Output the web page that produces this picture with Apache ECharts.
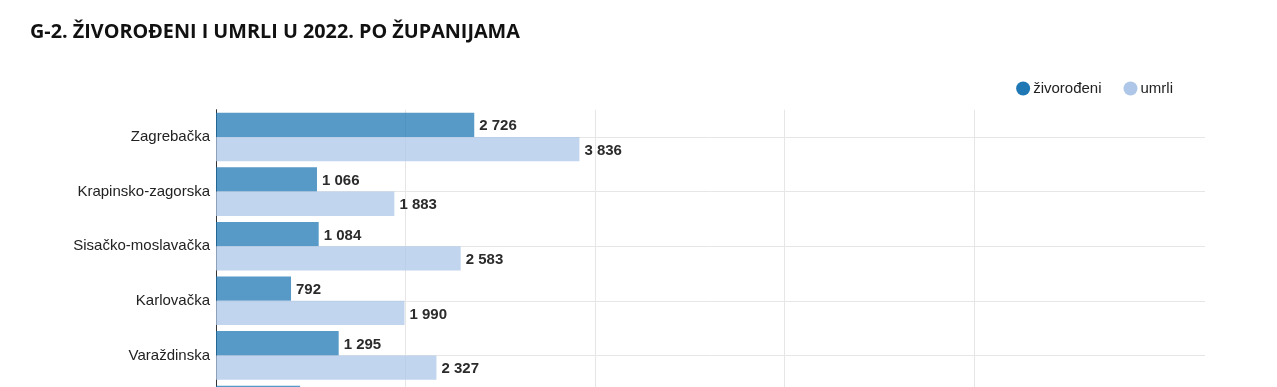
<!DOCTYPE html>
<html>
<head>
<meta charset="utf-8">
<script src="https://cdn.jsdelivr.net/npm/echarts@6/dist/echarts.min.js"></script>
<style>
html, body { margin: 0; padding: 0; background: #fff; overflow: hidden; }
#chart { width: 1277px; height: 500px; }
</style>
</head>
<body>
<div id="chart"></div>
<script>
const titleText = 'G-2. ŽIVOROĐENI I UMRLI U 2022. PO ŽUPANIJAMA';
const counties = ['Zagrebačka', 'Krapinsko-zagorska', 'Sisačko-moslavačka', 'Karlovačka', 'Varaždinska', 'Koprivničko-križevačka'];
const seriesNames = ['živorođeni', 'umrli'];
const liveBirths = [2726, 1066, 1084, 792, 1295, 888];
const deaths = [3836, 1883, 2583, 1990, 2327, null];
const xMax = 10440;
const xInterval = 2000;

function fmt(v) {
  return String(v).replace(/\B(?=(\d{3})+(?!\d))/g, ' ');
}

const chart = echarts.init(document.getElementById('chart'), null, { renderer: 'canvas' });
const transparent = 'rgba(0,0,0,0)';
const grid = '#e6e6e6';
const bandLineColors = [];
for (let i = 0; i <= counties.length * 2; i++) bandLineColors.push(i % 2 === 1 ? grid : transparent);

const labelStyle = {
  show: true,
  position: 'right',
  distance: 5,
  offset: [0, 1.5],
  fontFamily: 'Liberation Sans, Arial, sans-serif',
  fontSize: 15,
  fontWeight: 'bold',
  color: '#2b2b2b',
  opacity: 1,
  formatter: p => fmt(p.value)
};

chart.setOption({
  animation: false,
  title: {
    text: titleText,
    left: 30,
    top: 22,
    padding: 0,
    textStyle: { fontFamily: 'Open Sans', fontWeight: 'bold', fontSize: 19.8, color: '#111' }
  },
  legend: {
    right: 104,
    top: 81,
    padding: 0,
    icon: 'circle',
    itemWidth: 14,
    itemHeight: 14,
    itemGap: 22,
    textStyle: { fontFamily: 'Liberation Sans, Arial, sans-serif', fontSize: 15, color: '#222', padding: [0, 0, 0, -2] },
    data: [
      { name: seriesNames[0], itemStyle: { color: '#1f77b4', opacity: 1 } },
      { name: seriesNames[1], itemStyle: { color: '#aec7e8', opacity: 1 } }
    ]
  },
  grid: { left: 216, right: 72, top: 109.7, bottom: 62.7, containLabel: false },
  xAxis: {
    type: 'value',
    min: 0,
    max: xMax,
    interval: xInterval,
    axisLine: { show: false },
    axisTick: { show: false },
    axisLabel: { show: false },
    splitLine: {
      show: true,
      lineStyle: { color: [transparent, grid, grid, grid, grid, transparent, transparent], width: 1 }
    }
  },
  yAxis: [
    {
      type: 'category',
      data: counties,
      inverse: true,
      axisLine: { show: true, lineStyle: { color: '#333', width: 1 } },
      axisTick: { show: false },
      splitLine: { show: false },
      axisLabel: { fontFamily: 'Liberation Sans, Arial, sans-serif', fontSize: 15, color: '#222', margin: 6, padding: [3, 0, 0, 0] }
    },
    {
      type: 'value',
      min: 0,
      max: counties.length * 2,
      interval: 1,
      inverse: true,
      axisLine: { show: false },
      axisTick: { show: false },
      axisLabel: { show: false },
      splitLine: { show: true, lineStyle: { color: bandLineColors, width: 1 } }
    }
  ],
  series: [
    {
      name: seriesNames[0],
      type: 'bar',
      data: liveBirths,
      barGap: '0%',
      barCategoryGap: '11%',
      itemStyle: { color: '#1f77b4', opacity: 0.75 },
      label: labelStyle
    },
    {
      name: seriesNames[1],
      type: 'bar',
      data: deaths,
      barGap: '0%',
      barCategoryGap: '11%',
      itemStyle: { color: '#aec7e8', opacity: 0.75 },
      label: labelStyle
    }
  ]
});
</script>
</body>
</html>
